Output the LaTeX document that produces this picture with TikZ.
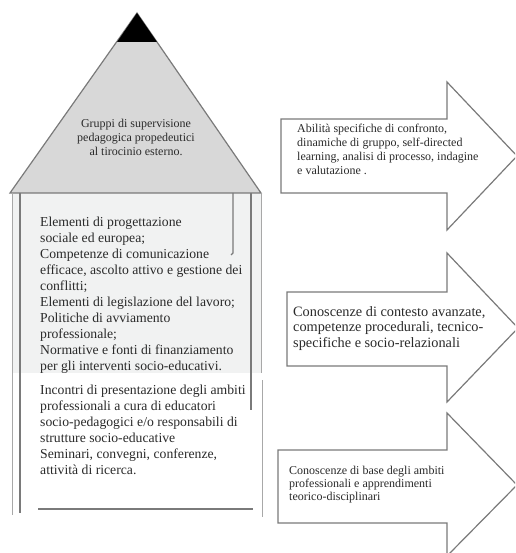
\documentclass[tikz,border=0pt]{standalone}
\usepackage{fontspec}
\setmainfont{Liberation Serif}
\usepackage{tikz}
\usetikzlibrary{positioning}
\usepackage{xcolor}
\definecolor{edgegray}{HTML}{7A7A7A}
\definecolor{lightedge}{HTML}{A8A8A8}
\definecolor{roofgray}{HTML}{D8D8D8}
\definecolor{wallgray}{HTML}{F1F2F2}
\definecolor{txtgray}{HTML}{2A2A2A}

\tikzset{
 outline/.style={draw=edgegray, line width=1.2pt},
 pillar/.style={draw=edgegray, line width=1.6pt},
 thinpillar/.style={draw=lightedge, line width=1pt},
 txt/.style={text=txtgray, inner sep=0pt, align=left, anchor=north west},
}

\begin{document}
\begin{tikzpicture}[x=1pt,y=-1pt]
\useasboundingbox (0,0) rectangle (515,553);
\clip (0,0) rectangle (515,553);
\fill[wallgray] (12,193) rectangle (261,373);
\filldraw[outline, fill=roofgray] (137,13) -- (261,193) -- (10,193) -- cycle;
\fill[black] (137,13) -- (157,42) -- (117,42) -- cycle;
\draw[thinpillar] (12,193) -- (12,515);
\draw[pillar] (20,193) -- (20,513);
\draw[outline] (233,193) -- (233,253) -- (231,255);
\draw[pillar] (251,193) -- (251,410);
\draw[thinpillar] (261,193) -- (261,373);
\draw[thinpillar] (262,380) -- (262,517);
\draw[outline] (38,509) -- (253,509);
\node[txt, anchor=north, align=center, font=\fontsize{12}{14}\selectfont] (gruppi) at (136,119)
 {Gruppi di supervisione\\pedagogica propedeutici\\al tirocinio esterno.};
\node[txt, font=\fontsize{13.7}{16}\selectfont] (elementi) at (40,217)
 {Elementi di progettazione\\sociale ed europea;\\Competenze di comunicazione\\efficace, ascolto attivo e gestione dei\\conflitti;\\Elementi di legislazione del lavoro;\\Politiche di avviamento\\professionale;\\Normative e fonti di finanziamento\\per gli interventi socio-educativi.};
\node[txt, font=\fontsize{13.7}{16}\selectfont] (incontri) at (40,385)
 {Incontri di presentazione degli ambiti\\professionali a cura di educatori\\socio-pedagogici e/o responsabili di\\strutture socio-educative\\Seminari, convegni, conferenze,\\attività di ricerca.};
% arrows
\filldraw[outline, fill=white] (281,119) -- (447,119) -- (447,82) -- (517,156) -- (447,230) -- (447,193) -- (281,193) -- cycle;
\filldraw[outline, fill=white] (287,292) -- (447,292) -- (447,253) -- (518,328) -- (447,402) -- (447,366) -- (287,366) -- cycle;
\filldraw[outline, fill=white] (278,450) -- (447,450) -- (447,413) -- (517,485) -- (447,556) -- (447,523) -- (278,523) -- cycle;
\node[txt, font=\fontsize{12}{14}\selectfont] (abilita) at (297,124)
 {Abilità specifiche di confronto,\\dinamiche di gruppo, self-directed\\learning, analisi di processo, indagine\\e valutazione .};
\node[txt, font=\fontsize{14.3}{15.5}\selectfont] (contesto) at (293,306)
 {Conoscenze di contesto avanzate,\\competenze procedurali, tecnico-\\specifiche e socio-relazionali};
\node[txt, font=\fontsize{12}{13}\selectfont] (base) at (289,466)
 {Conoscenze di base degli ambiti\\professionali e apprendimenti\\teorico-disciplinari};
\end{tikzpicture}
\end{document}
